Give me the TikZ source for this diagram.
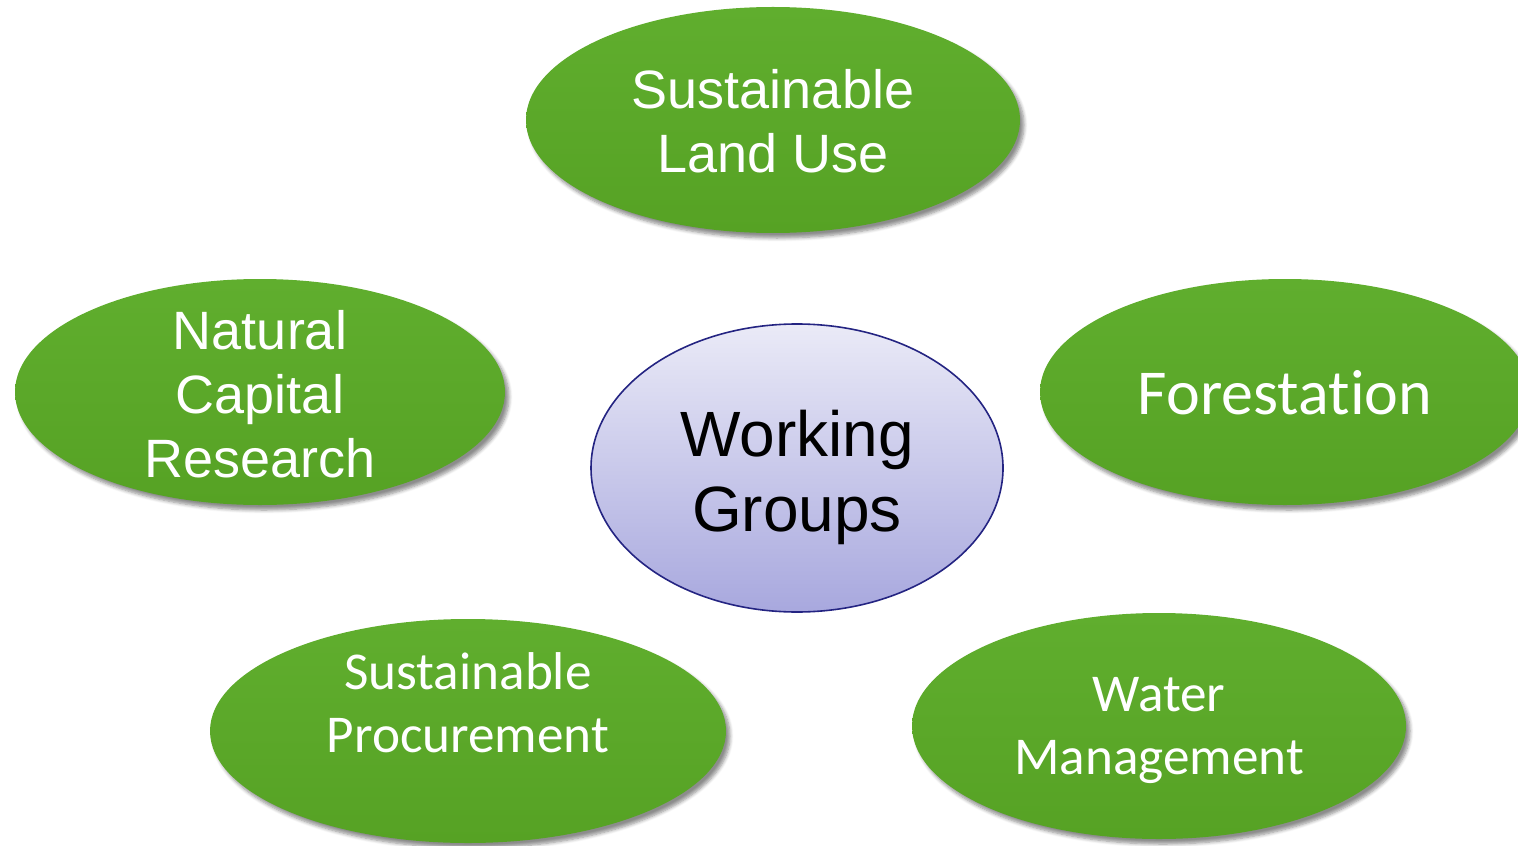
\documentclass[tikz,border=0pt]{standalone}
\usepackage{fontspec}
\usetikzlibrary{shapes.geometric,shadows.blur}
\newfontfamily\arialf{Liberation Sans}
\newfontfamily\calibf[Ligatures=NoCommon]{Carlito}
\definecolor{gtop}{RGB}{96,174,46}
\definecolor{gbot}{RGB}{86,162,36}
\definecolor{wgtop}{RGB}{234,234,247}
\definecolor{wgbot}{RGB}{168,168,222}
\definecolor{wgline}{RGB}{36,36,130}
\tikzset{
  greenov/.style={ellipse, inner sep=0pt, draw=none, top color=gtop, bottom color=gbot,
    blur shadow={shadow xshift=2pt, shadow yshift=-2.5pt, shadow blur steps=6, shadow opacity=45}},
  centreov/.style={ellipse, inner sep=0pt, draw=wgline, line width=0.8pt, top color=wgtop, bottom color=wgbot},
  wtext/.style={text=white, align=center, inner sep=0pt},
  arialtxt/.style={wtext, font=\arialf\fontsize{27}{32}\selectfont},
  calibtxt/.style={wtext, font=\calibf\fontsize{26.6}{31.5}\selectfont},
}
\begin{document}
\begin{tikzpicture}[x=0.5pt,y=-0.5pt]
\useasboundingbox (0,0) rectangle (1518,845);
\clip (0,0) rectangle (1518,845);
% green ellipses
\node[greenov, minimum width=247pt, minimum height=113pt] (land) at (773,120) {};
\node[greenov, minimum width=245pt, minimum height=113pt] (nat) at (260,392) {};
\node[greenov, minimum width=245pt, minimum height=113pt] (forest) at (1285,392) {};
\node[greenov, minimum width=258pt, minimum height=112pt] (proc) at (468,731) {};
\node[greenov, minimum width=247pt, minimum height=113pt] (water) at (1159,726) {};
% centre ellipse
\node[centreov, minimum width=206pt, minimum height=144pt] (wg) at (797,468) {};
% texts
\node[arialtxt] (landt) at ([yshift=-0.5pt]land.center) {Sustainable\\Land Use};
\node[arialtxt] (natt) at ([yshift=-1pt]nat.center) {Natural\\Capital\\Research};
\node[wtext, font=\calibf\fontsize{32}{38}\selectfont] (forestt) at ([yshift=-0.5pt]forest.center) {Forestation};
\node[calibtxt] (proct) at ([yshift=14pt]proc.center) {Sustainable\\Procurement};
\node[calibtxt] (watert) at ([yshift=-2pt]water.center) {Water\\Management};
\node[wtext, text=black, font=\arialf\fontsize{32}{37.5}\selectfont] (wgt) at ([yshift=-4.5pt]wg.center) {Working\\Groups};
\end{tikzpicture}
\end{document}
